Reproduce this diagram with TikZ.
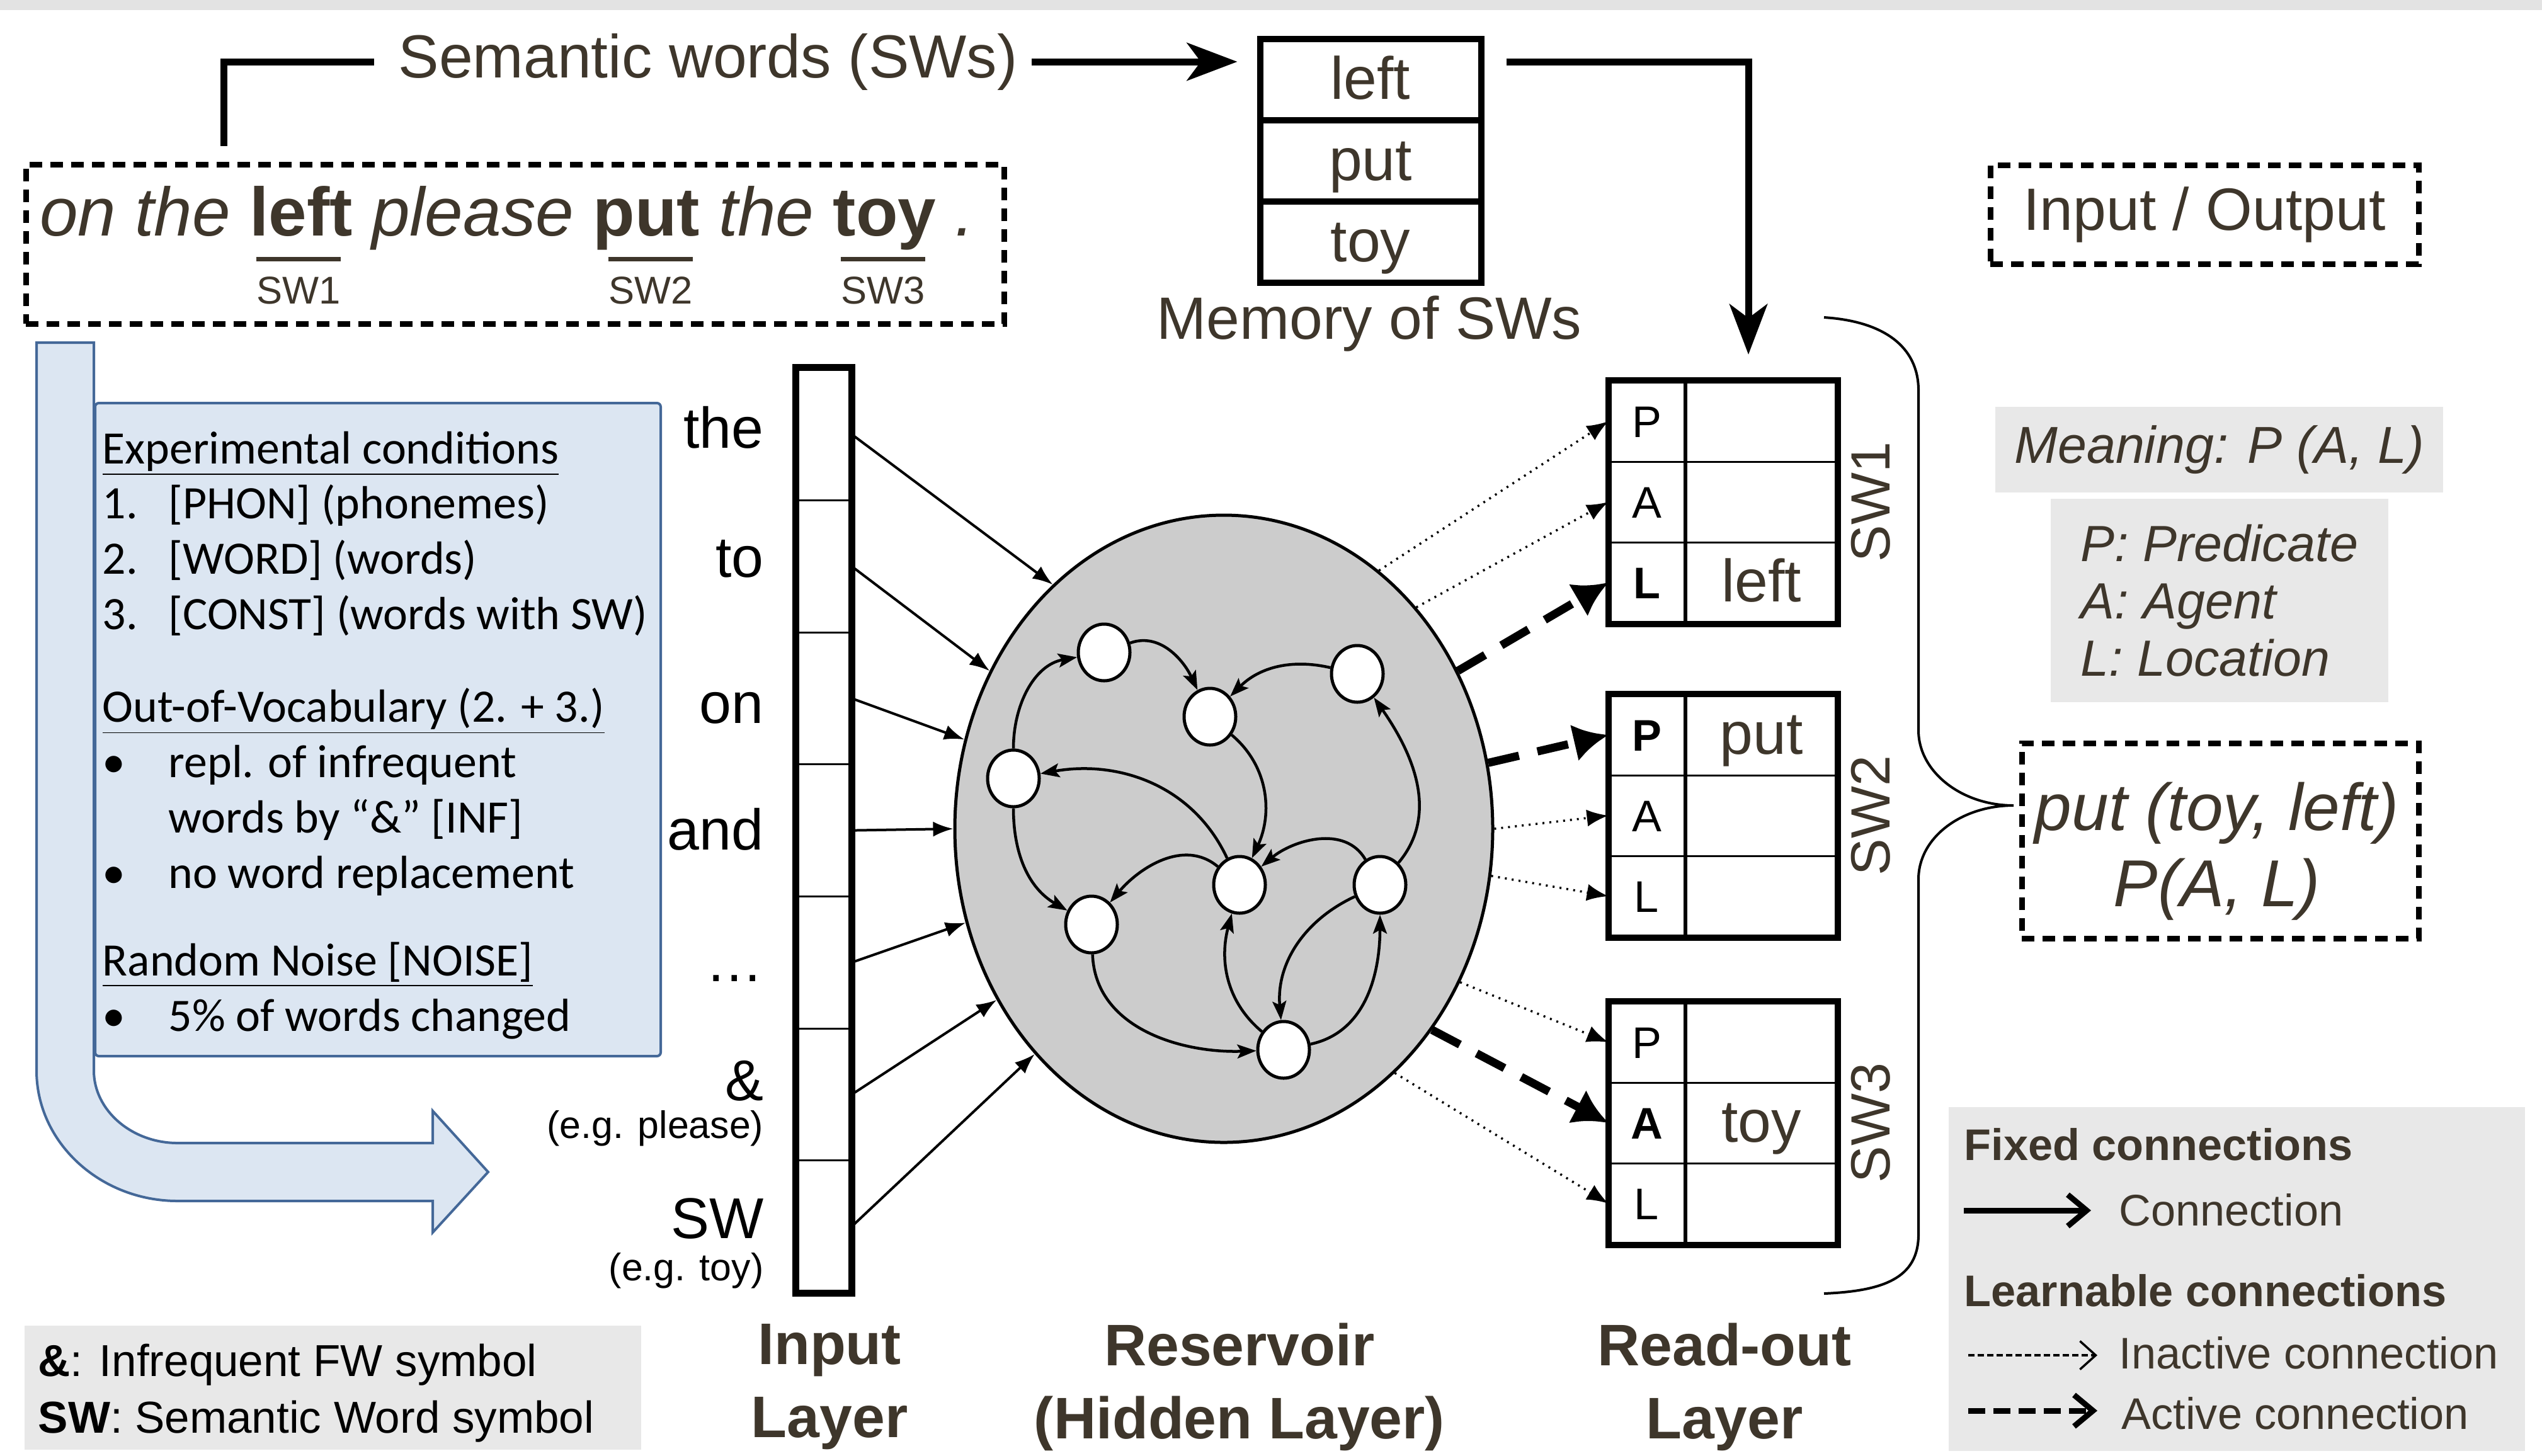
\documentclass[tikz,border=0pt]{standalone}
\usepackage{fontspec}
\setmainfont{Liberation Sans}
\newfontfamily\calfont{Carlito}
\usetikzlibrary{positioning,shapes.geometric,arrows.meta}

\definecolor{ink}{RGB}{62,54,43}
\definecolor{resgray}{RGB}{204,204,204}
\definecolor{boxgray}{RGB}{232,232,232}
\definecolor{paleblue}{RGB}{220,230,242}
\definecolor{edgeblue}{RGB}{68,104,152}

\newcommand{\fsz}[2]{\fontsize{#1pt}{#2pt}\selectfont}

\begin{document}
\begin{tikzpicture}[
    fat/.style = {line width=0.11cm},
    bigtip/.style = {-{Stealth[length=0.8cm,width=0.6cm,inset=0.22cm]}},
    dashbox/.style = {draw, line width=0.09cm, dash pattern=on 0.2cm off 0.13cm},
    cell/.style = {draw, line width=0.03cm, inner sep=0pt},
    memcell/.style = {draw, line width=0.05cm, inner sep=0pt, minimum width=3.46cm, minimum height=1.24cm,
                      font=\fsz{27}{32}, text=ink, text height=0.62cm, text depth=0pt},
    rolecell/.style = {cell, minimum width=1.19cm, minimum height=1.28cm, font=\fsz{20}{24},
                       text height=0.5cm, text depth=0pt},
    valcell/.style = {cell, minimum width=2.39cm, minimum height=1.28cm},
    valword/.style = {inner sep=0pt, font=\fsz{27}{32}, text=ink, text height=0.6cm, text depth=0pt},
    swtag/.style = {rotate=90, inner sep=0pt, font=\fsz{25}{30}, text=ink},
    swmark/.style = {anchor=base, inner sep=0pt, font=\fsz{17.5}{21}, text=ink},
    inword/.style = {anchor=base east, inner sep=0pt, font=\fsz{26}{31}},
    egword/.style = {anchor=base east, inner sep=0pt, font=\fsz{17.3}{21}},
    neuron/.style = {ellipse, draw, fill=white, line width=0.05cm, minimum width=0.82cm,
                     minimum height=0.9cm, inner sep=0pt},
    rec/.style = {line width=0.045cm, -{Stealth[length=0.3cm,width=0.22cm,inset=0.06cm]}},
    feed/.style = {line width=0.04cm, -{Latex[length=0.32cm,width=0.24cm]}},
    inact/.style = {line width=0.035cm, dash pattern=on 0.03cm off 0.08cm, -{Latex[length=0.34cm,width=0.27cm]}},
    act/.style = {line width=0.13cm, dash pattern=on 0.5cm off 0.3cm, -{Latex[length=0.55cm,width=0.6cm]}},
    greybox/.style = {fill=boxgray, inner sep=0pt},
    legtitle/.style = {anchor=base west, inner sep=0pt, font=\fsz{20}{24}\bfseries, text=ink},
    legtext/.style = {anchor=base west, inner sep=0pt, font=\fsz{20}{24}, text=ink},
    symtext/.style = {anchor=base west, inner sep=0pt, font=\fsz{20.2}{24}},
    layerlab/.style = {align=center, inner sep=0pt, font=\fsz{26.5}{33}\bfseries, text=ink}
]
\useasboundingbox (0,0) rectangle (40.36,-23.11);
\fill[gray!22] (0,0) rectangle (40.36,-0.16);

% sentence and semantic words
\node[dashbox, minimum width=15.53cm, minimum height=2.53cm] (sent) at (8.175,-3.875) {};
\node[anchor=base, inner sep=0pt, font=\fsz{31}{37}, text=ink] (sentence) at (8.05,-3.74)
    {\textit{on the} \textbf{left} \textit{please} \textbf{put} \textit{the} \textbf{toy} \textit{.}};
\foreach \x/\n in {4.74/1, 10.33/2, 14.02/3} {
    \node[swmark] (swl\n) at (\x,-4.82) {SW\n};
    \draw[line width=0.07cm, ink] ([yshift=0.27cm]swl\n.north west) -- ([yshift=0.27cm]swl\n.north east);
}
\node[anchor=base, inner sep=0pt, font=\fsz{27.5}{33}, text=ink] (semw) at (11.24,-1.23) {Semantic words (SWs)};
\coordinate (brk) at (3.55,-2.32);
\draw[fat] (brk) |- ([xshift=-0.38cm]semw.west);

% memory of SWs
\node[memcell] (mem1) at (21.76,-1.26) {left};
\node[memcell, below=0pt of mem1] (mem2) {put};
\node[memcell, below=0pt of mem2] (mem3) {toy};
\draw[line width=0.1cm] (mem1.north west) rectangle (mem3.south east);
\node[anchor=base, inner sep=0pt, font=\fsz{27}{32}, text=ink] (memlab) at (21.74,-5.38) {Memory of SWs};
\draw[fat, bigtip, shorten >=0.36cm] ([xshift=0.22cm]semw.east) -- (semw.east -| mem1.west);
\coordinate (rdin) at (27.76,-5.63);
\draw[fat, bigtip] ([xshift=0.4cm,yshift=0.28cm]mem1.east) -| (rdin);

% blue arrow and conditions
\filldraw[fill=paleblue, draw=edgeblue, line width=0.04cm] (0.58,-5.44) -- (0.58,-17.0)
    .. controls (0.58,-18.14) and (1.59,-19.07) .. (2.82,-19.07) -- (6.87,-19.07) -- (6.87,-19.57)
    -- (7.75,-18.61) -- (6.87,-17.64) -- (6.87,-18.15) -- (2.82,-18.15)
    .. controls (2.09,-18.15) and (1.49,-17.63) .. (1.49,-17.0) -- (1.49,-5.44) -- cycle;
\node[draw=edgeblue, fill=paleblue, line width=0.04cm, rounded corners=0.06cm,
      minimum width=8.98cm, minimum height=10.37cm] (cond) at (6.0,-11.585) {};
\node[anchor=base west, inner sep=0pt, font=\calfont\fsz{21}{25}] (condtxt) at (1.62,-7.36) {%
    \begin{tabular}[t]{@{}p{1.05cm}@{}l@{}}
    \multicolumn{2}{@{}l@{}}{\underline{Experimental conditions}}\\
    1. & [PHON] (phonemes)\\
    2. & [WORD] (words)\\
    3. & [CONST] (words with SW)\\[0.59cm]
    \multicolumn{2}{@{}l@{}}{\underline{Out-of-Vocabulary (2. + 3.)}}\\
    \textbullet & repl. of infrequent\\
     & words by “\&” [INF]\\
    \textbullet & no word replacement\\[0.52cm]
    \multicolumn{2}{@{}l@{}}{\underline{Random Noise [NOISE]}}\\
    \textbullet & 5\% of words changed
    \end{tabular}};

% input layer
\foreach \cnt in {1,...,7}
    \node[cell, minimum width=0.86cm, minimum height=2.096cm] (inp\cnt) at (13.08,{-5.85-(\cnt-0.5)*2.096}) {};
\draw[line width=0.11cm] (inp1.north west) rectangle (inp7.south east);
\foreach \w/\y [count=\cnt] in {the/7.11, to/9.16, on/11.48, and/13.49, …/15.58, \&/17.47, SW/19.66}
    \node[inword] (word\cnt) at (12.13,-\y) {\w};
\node[egword] (eg1) at (12.13,-18.07) {(e.g. please)};
\node[egword] (eg2) at (12.13,-20.33) {(e.g. toy)};

% reservoir
\node[ellipse, draw, fill=resgray, line width=0.05cm, minimum width=8.54cm, minimum height=9.96cm,
      inner sep=0pt] (res) at (19.43,-13.16) {};
\foreach \cnt/\ang in {1/125, 2/146, 3/161, 4/180, 5/200, 6/217, 7/230}
    \draw[feed] (inp\cnt.east) -- (res.\ang);

\node[neuron] (n1) at (17.53,-10.36) {};
\node[neuron] (n2) at (19.21,-11.38) {};
\node[neuron] (n3) at (21.55,-10.70) {};
\node[neuron] (n4) at (16.09,-12.36) {};
\node[neuron] (n5) at (19.68,-14.05) {};
\node[neuron] (n6) at (21.91,-14.05) {};
\node[neuron] (n7) at (17.33,-14.68) {};
\node[neuron] (n8) at (20.38,-16.67) {};

\draw[rec] (n1) to [out=20, in=115] (n2);
\draw[rec] (n3) to [out=167, in=45] (n2);
\draw[rec] (n4) to [out=90, in=190] (n1);
\draw[rec] (n5) to [out=115, in=10] (n4);
\draw[rec] (n4) to [out=-90, in=150] (n7);
\draw[rec] (n5) to [out=140, in=50] (n7);
\draw[rec] (n2) to [out=-40, in=65] (n5);
\draw[rec] (n6) to [out=120, in=40] (n5);
\draw[rec] (n6) to [out=50, in=-55] (n3);
\draw[rec] (n6) to [out=205, in=95] (n8);
\draw[rec] (n8) to [out=140, in=255] (n5);
\draw[rec] (n8) to [out=12, in=-90] (n6);
\draw[rec] (n7) to [out=-88, in=182] (n8);

% read-out layer
\foreach \bx/\ytop/\act in {1/6.05/3, 2/11.03/1, 3/15.91/2} {
    \foreach \lt [count=\rw] in {P,A,L} {
        \node[rolecell] (ro\bx-\rw) at (26.145,{-\ytop-(\rw-0.5)*1.28}) {\ifnum\rw=\act\relax\bfseries\fi\lt};
        \node[valcell, right=0pt of ro\bx-\rw] (rv\bx-\rw) {};
    }
    \draw[line width=0.1cm] (ro\bx-1.north west) rectangle (rv\bx-3.south east);
    \node[swtag] (tag\bx) at (29.70,{-\ytop-1.92}) {SW\bx};
}
\node[valword] (val1) at (rv1-3) {left};
\node[valword] (val2) at (rv2-1) {put};
\node[valword] (val3) at (rv3-2) {toy};

\draw[inact] (res.59) -- (ro1-1.west);
\draw[inact] (res.49) -- (ro1-2.west);
\draw[act] (res.34) -- (ro1-3.west);
\draw[act] (res.14) -- (ro2-1.west);
\draw[inact] (res.0) -- (ro2-2.west);
\draw[inact] (res.350) -- (ro2-3.west);
\draw[inact] (res.327) -- (ro3-1.west);
\draw[act] (res.316) -- (ro3-2.west);
\draw[inact] (res.305) -- (ro3-3.west);

% brace
\draw[line width=0.04cm] (28.96,-5.04) .. controls (29.9,-5.1) and (30.46,-5.5) .. (30.46,-6.2)
    -- (30.46,-11.6) .. controls (30.46,-12.25) and (31.14,-12.79) .. (31.97,-12.79)
    .. controls (31.14,-12.79) and (30.46,-13.3) .. (30.46,-13.96) -- (30.46,-19.6)
    .. controls (30.46,-20.3) and (29.9,-20.5) .. (28.96,-20.54);

% right column
\node[dashbox, minimum width=6.8cm, minimum height=1.57cm, font=\fsz{27}{32}, text=ink] (io) at (35.0,-3.405) {Input / Output};
\node[greybox, minimum width=7.11cm, minimum height=1.36cm, font=\fsz{23.5}{28}\itshape, text=ink] (mean) at (35.235,-7.14) {Meaning: P (A, L)};
\node[greybox, minimum width=5.36cm, minimum height=3.23cm, font=\fsz{23}{25.9}\itshape, text=ink, align=left] (defs) at (35.24,-9.535) {P: Predicate\\A: Agent\\L: Location};
\node[dashbox, minimum width=6.3cm, minimum height=3.1cm] (outb) at (35.25,-13.35) {};
\node[align=center, inner sep=0pt, font=\fsz{30}{34.4}\itshape, text=ink] (outtxt) at (35.2,-13.52) {put (toy, left)\\P(A, L)};

% legend
\node[greybox, minimum width=9.15cm, minimum height=5.46cm] (legend) at (35.515,-20.31) {};
\node[legtitle] (lfix) at (31.18,-18.42) {Fixed connections};
\coordinate (lf1) at (31.18,-19.22);
\coordinate (lf2) at (33.20,-19.22);
\draw[line width=0.09cm, -{Straight Barb[length=0.3cm,width=0.5cm]}] (lf1) -- (lf2);
\node[legtext] (lcon) at (33.64,-19.46) {Connection};
\node[legtitle] (llearn) at (31.18,-20.74) {Learnable connections};
\coordinate (li1) at (31.25,-21.52);
\coordinate (li2) at (33.30,-21.52);
\draw[line width=0.035cm, dash pattern=on 0.1cm off 0.05cm, -{Straight Barb[length=0.25cm,width=0.45cm]}] (li1) -- (li2);
\node[legtext] (lin) at (33.64,-21.73) {Inactive connection};
\coordinate (la1) at (31.25,-22.40);
\coordinate (la2) at (33.30,-22.40);
\draw[line width=0.09cm, dash pattern=on 0.27cm off 0.13cm, -{Straight Barb[length=0.3cm,width=0.5cm]}] (la1) -- (la2);
\node[legtext] (lact) at (33.68,-22.69) {Active connection};

% symbols and layer names
\node[greybox, minimum width=9.79cm, minimum height=1.97cm] (symb) at (5.285,-22.035) {};
\node[symtext] (sym1) at (0.60,-21.85) {\textbf{\&}: Infrequent FW symbol};
\node[symtext] (sym2) at (0.60,-22.75) {\textbf{SW}: Semantic Word symbol};
\node[layerlab] (labin) at (13.17,-22.02) {Input\\Layer};
\node[layerlab] (labres) at (19.68,-22.02) {Reservoir\\(Hidden Layer)};
\node[layerlab] (labout) at (27.38,-22.02) {Read-out\\Layer};
\end{tikzpicture}
\end{document}
